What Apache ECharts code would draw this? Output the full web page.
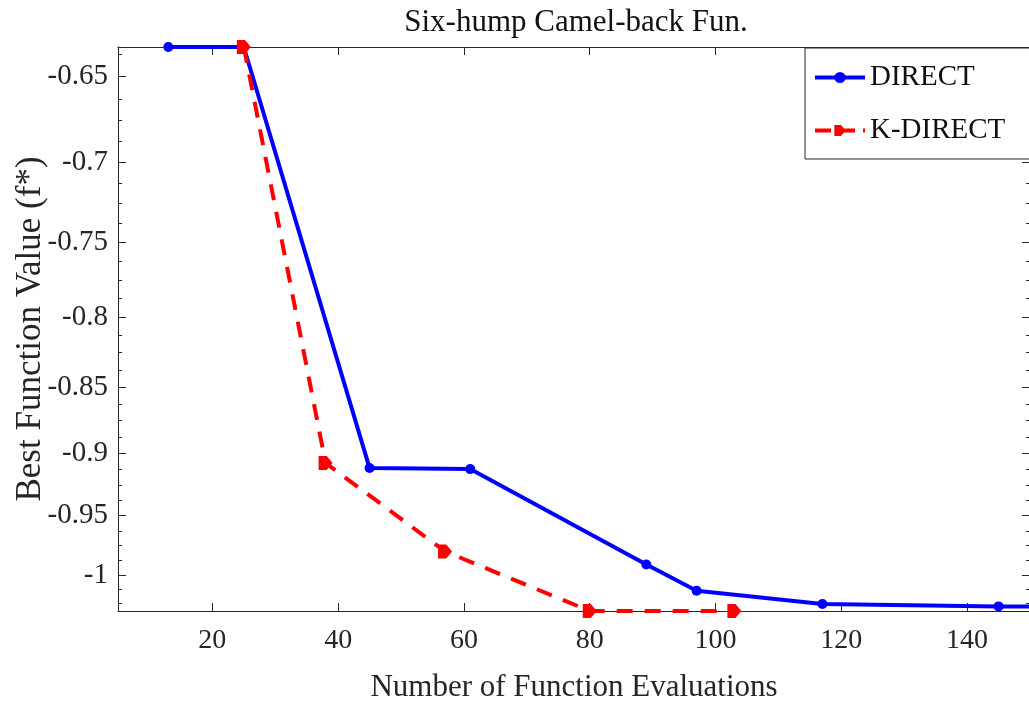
<!DOCTYPE html>
<html>
<head>
<meta charset="utf-8">
<title>Six-hump Camel-back Fun.</title>
<script src="https://cdn.jsdelivr.net/npm/echarts@6/dist/echarts.min.js"></script>
<style>
  html, body { margin: 0; padding: 0; background: #ffffff; }
  #chart { width: 1029px; height: 707px; }
</style>
</head>
<body>
<div id="chart"></div>
<script>
// Convergence history: best objective value found vs. number of evaluations
const directEvals = [13, 25, 45, 61, 89, 97, 117, 145, 153];
const directBest = [-0.6335, -0.6335, -0.9117, -0.9125, -0.991, -1.0137, -1.0254, -1.0275, -1.0278];

const kdirectEvals = [25, 38, 57, 80, 103];
const kdirectBest = [-0.6335, -0.9077, -0.9798, -1.0316, -1.0316];

// Axis ticks
const xTicks = [20, 40, 60, 80, 100, 120, 140];
const yTicks = [-0.65, -0.7, -0.75, -0.8, -0.85, -0.9, -0.95, -1];
const yMinorTicks = [-0.6375, -0.6625, -0.675, -0.6875, -0.7125, -0.725, -0.7375,
  -0.7625, -0.775, -0.7875, -0.8125, -0.825, -0.8375, -0.8625, -0.875, -0.8875,
  -0.9125, -0.925, -0.9375, -0.9625, -0.975, -0.9875, -1.0125, -1.025];

// Axis limits
const xRange = [5, 150];
const yRange = [-1.0316, -0.6335];

const FONT = 'Liberation Serif';
const INK = '#262626';
const BLUE = '#0000ff';
const RED = '#ff0000';

// The value axis is logarithmic in |f*|; negative values are drawn by magnitude
// on an inverted log axis and labelled with their sign.
const mag = v => -v;
const fmtY = v => '-' + String(Number(Number(v).toFixed(4)));

const chart = echarts.init(document.getElementById('chart'), null, { renderer: 'canvas' });

const yCommon = {
  type: 'log',
  logBase: 10,
  inverse: true,
  min: mag(yRange[1]),
  max: mag(yRange[0]),
  splitLine: { show: false },
  axisLine: { show: true, lineStyle: { color: INK, width: 1 } }
};

const yAxes = [
  Object.assign({}, yCommon, {
    position: 'left',
    name: 'Best Function Value (f*)',
    nameLocation: 'middle',
    nameGap: 70,
    nameMoveOverlap: false,
    nameTextStyle: { fontFamily: FONT, fontSize: 35, color: INK },
    axisTick: { show: true, inside: true, length: 8, lineStyle: { color: INK }, customValues: yTicks.map(mag) },
    axisLabel: {
      show: true, margin: 10, fontFamily: FONT, fontSize: 29, color: INK,
      customValues: yTicks.map(mag), formatter: fmtY
    }
  }),
  Object.assign({}, yCommon, {
    position: 'left',
    axisLine: { show: false },
    axisTick: { show: true, inside: true, length: 4, lineStyle: { color: INK }, customValues: yMinorTicks.map(mag) },
    axisLabel: { show: false }
  }),
  Object.assign({}, yCommon, {
    position: 'right',
    axisTick: { show: true, inside: true, length: 8, lineStyle: { color: INK }, customValues: yTicks.map(mag) },
    axisLabel: { show: false }
  }),
  Object.assign({}, yCommon, {
    position: 'right',
    axisLine: { show: false },
    axisTick: { show: true, inside: true, length: 4, lineStyle: { color: INK }, customValues: yMinorTicks.map(mag) },
    axisLabel: { show: false }
  })
];

const xAxes = [
  {
    type: 'value',
    position: 'bottom',
    min: xRange[0],
    max: xRange[1],
    splitLine: { show: false },
    axisLine: { show: true, onZero: false, lineStyle: { color: INK, width: 1 } },
    axisTick: { show: true, inside: true, length: 8, lineStyle: { color: INK }, customValues: xTicks },
    axisLabel: { show: true, margin: 16, fontFamily: FONT, fontSize: 28, color: INK, customValues: xTicks },
    name: 'Number of Function Evaluations',
    nameLocation: 'middle',
    nameGap: 61,
    nameTextStyle: { fontFamily: FONT, fontSize: 31, color: INK }
  },
  {
    type: 'value',
    position: 'top',
    min: xRange[0],
    max: xRange[1],
    splitLine: { show: false },
    axisLine: { show: true, onZero: false, lineStyle: { color: INK, width: 1 } },
    axisTick: { show: true, inside: true, length: 8, lineStyle: { color: INK }, customValues: xTicks },
    axisLabel: { show: false }
  }
];

const pentagonRight = 'path://M0,0 L7,0 L12,6 L7,12 L0,12 Z';

chart.setOption({
  animation: false,
  backgroundColor: '#ffffff',
  title: {
    text: 'Six-hump Camel-back Fun.',
    left: 576,
    top: 7,
    padding: 0,
    textAlign: 'center',
    textStyle: { fontFamily: FONT, fontSize: 31, fontWeight: 'normal', color: '#111111' }
  },
  grid: { left: 118, right: -1, top: 47, bottom: 96, containLabel: false, outerBoundsMode: 'none' },
  xAxis: xAxes,
  yAxis: yAxes,
  legend: {
    orient: 'vertical',
    left: 805,
    top: 48,
    itemWidth: 50,
    itemHeight: 14,
    itemGap: 24,
    padding: [15, 40, 14, 8],
    borderColor: INK,
    borderWidth: 1,
    borderRadius: 0,
    backgroundColor: '#ffffff',
    textStyle: { fontFamily: FONT, fontSize: 29, color: '#111111' },
    data: [
      { name: 'DIRECT', lineStyle: { width: 4, color: BLUE } },
      { name: 'K-DIRECT', lineStyle: { width: 4, color: RED, type: 'dashed', dashOffset: 0 } }
    ]
  },
  series: [
    {
      name: 'DIRECT',
      type: 'line',
      xAxisIndex: 0,
      yAxisIndex: 0,
      data: directEvals.map((x, i) => [x, mag(directBest[i])]),
      symbol: 'circle',
      symbolSize: 10,
      showAllSymbol: true,
      clip: true,
      lineStyle: { color: BLUE, width: 4, join: 'round' },
      itemStyle: { color: BLUE },
      z: 3
    },
    {
      name: 'K-DIRECT',
      type: 'line',
      xAxisIndex: 0,
      yAxisIndex: 0,
      data: kdirectEvals.map((x, i) => [x, mag(kdirectBest[i])]),
      symbol: pentagonRight,
      symbolSize: 14,
      showAllSymbol: true,
      clip: true,
      lineStyle: { color: RED, width: 4, type: [16, 12] },
      itemStyle: { color: RED },
      z: 4
    }
  ]
});
</script>
</body>
</html>
